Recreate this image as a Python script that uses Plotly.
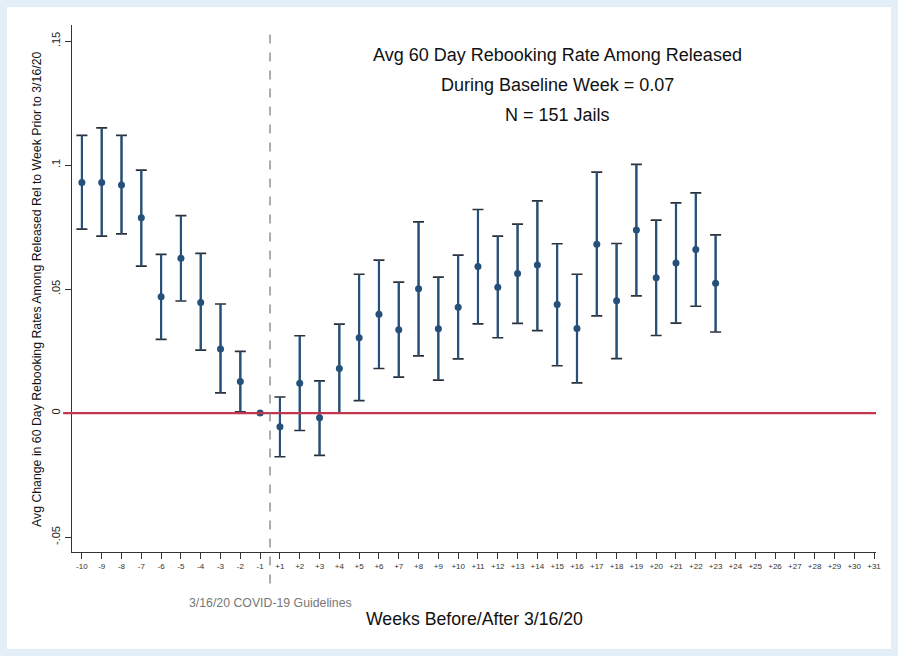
import plotly.graph_objects as go

# ---- data ----
tick_labels = [str(w) for w in range(-10, 0)] + ["+" + str(w) for w in range(1, 32)]
week_labels = [str(w) for w in range(-10, 0)] + ["+" + str(w) for w in range(1, 24)]
estimate = [0.093, 0.093, 0.092, 0.0788, 0.0469, 0.0624, 0.0446, 0.0259, 0.0128, 0.0,
            -0.0055, 0.012, -0.0019, 0.018, 0.0304, 0.0399, 0.0336, 0.0501, 0.034, 0.0427,
            0.0591, 0.0508, 0.0563, 0.0597, 0.0438, 0.0341, 0.0681, 0.0453, 0.0738, 0.0546,
            0.0605, 0.066, 0.0524]
ci_upper = [0.112, 0.115, 0.112, 0.098, 0.064, 0.0796, 0.0644, 0.044, 0.0249, None,
            0.0065, 0.0312, 0.013, 0.0359, 0.056, 0.0617, 0.0528, 0.0771, 0.0548, 0.0637,
            0.0821, 0.0714, 0.0762, 0.0856, 0.0683, 0.056, 0.0972, 0.0684, 0.1003, 0.0778,
            0.0848, 0.0888, 0.0719]
ci_lower = [0.0742, 0.0714, 0.0723, 0.0593, 0.0297, 0.0452, 0.0254, 0.0082, 0.0005, None,
            -0.0176, -0.007, -0.017, 0.0, 0.005, 0.018, 0.0145, 0.0231, 0.0133, 0.0219,
            0.036, 0.0304, 0.0362, 0.0333, 0.0191, 0.0122, 0.0392, 0.022, 0.0473, 0.0313,
            0.0363, 0.0431, 0.0327]
y_tickvals = [-0.05, 0, 0.05, 0.1, 0.15]
y_ticktext = ["-.05", "0", ".05", ".1", ".15"]
note_lines = ["Avg 60 Day Rebooking Rate Among Released",
              "During Baseline Week = 0.07",
              "N = 151 Jails"]

err_plus = [None if u is None else u - e for u, e in zip(ci_upper, estimate)]
err_minus = [None if l is None else e - l for l, e in zip(ci_lower, estimate)]

NAVY = "#24507a"
CAP = "#2b3038"
FONT = "Liberation Sans, Arial, sans-serif"
FRAME = "#e3eef6"

fig = go.Figure()
# caps (dark)
fig.add_trace(go.Scatter(
    x=week_labels, y=estimate, mode="markers",
    marker=dict(size=1, color="rgba(0,0,0,0)"),
    error_y=dict(type="data", symmetric=False, array=err_plus, arrayminus=err_minus,
                 color=CAP, thickness=1.7, width=5.5),
    hoverinfo="skip", showlegend=False))
# vertical spikes (blue) + markers
fig.add_trace(go.Scatter(
    x=week_labels, y=estimate, mode="markers",
    marker=dict(size=7, color=NAVY, symbol="circle"),
    error_y=dict(type="data", symmetric=False, array=err_plus, arrayminus=err_minus,
                 color=NAVY, thickness=2.2, width=0),
    showlegend=False))

shapes = [
    # white page inside light frame
    dict(type="rect", xref="paper", yref="paper", x0=-0.0808, x1=1.0187, y0=-0.184, y1=1.0342,
         fillcolor="white", line=dict(width=0), layer="below"),
    # zero reference line
    dict(type="line", xref="paper", yref="y", x0=-0.011, x1=1.0, y0=0, y1=0,
         line=dict(color="#c3364f", width=2.2)),
    # dashed vertical line at policy date
    dict(type="line", xref="x", yref="paper", x0=9.5, x1=9.5, y0=-0.06, y1=0.994,
         line=dict(color="#777777", width=1.2, dash="dash")),
]

annotations = [
    dict(text=note_lines[i], xref="paper", yref="paper", x=(557 - 72) / 804,
         y=(552 - (55 + 30 * i)) / 527, showarrow=False, xanchor="center", yanchor="middle",
         font=dict(family=FONT, size=18, color="#111111"))
    for i in range(3)
]
annotations.append(dict(text="3/16/20 COVID-19 Guidelines", xref="x", yref="paper", x=9.5,
                        y=(552 - 603) / 527, showarrow=False, xanchor="center", yanchor="middle",
                        font=dict(family=FONT, size=12.3, color="#777777")))
annotations.append(dict(text="Weeks Before/After 3/16/20", xref="paper", yref="paper",
                        x=(474 - 72) / 804, y=(552 - 619) / 527, showarrow=False,
                        xanchor="center", yanchor="middle",
                        font=dict(family=FONT, size=17.7, color="#111111")))
annotations.append(dict(text="Avg Change in 60 Day Rebooking Rates Among Released Rel to Week Prior to 3/16/20",
                        xref="paper", yref="paper", x=(37 - 72) / 804, y=(552 - 290) / 527,
                        showarrow=False, textangle=-90, xanchor="center", yanchor="middle",
                        font=dict(family=FONT, size=12.3, color="#111111")))

fig.update_layout(
    width=898, height=656,
    margin=dict(l=72, r=22, t=25, b=104),
    paper_bgcolor=FRAME, plot_bgcolor="white",
    font=dict(family=FONT, color="#222222"),
    xaxis=dict(type="category", categoryorder="array", categoryarray=tick_labels,
               tickmode="array", tickvals=tick_labels, ticktext=tick_labels,
               range=[-0.5, 40.1], showgrid=False, zeroline=False,
               showline=True, linecolor="#333333", linewidth=1.3,
               ticks="outside", ticklen=6, tickwidth=1.2, tickcolor="#333333",
               tickfont=dict(size=8, color="#333333", family=FONT), tickangle=0),
    yaxis=dict(range=[-0.056, 0.1565], tickvals=y_tickvals, ticktext=y_ticktext,
               showgrid=False, zeroline=False, showline=True, linecolor="#333333",
               linewidth=1.3, ticks="outside", ticklen=6, tickwidth=1.2, tickcolor="#333333",
               tickangle=-90, tickfont=dict(size=11, color="#222222", family=FONT)),
    shapes=shapes, annotations=annotations,
)

fig.write_html("out.html", config={"displayModeBar": False},
               post_script="document.body.style.margin='0px';"
                           "document.body.style.background='%s';" % FRAME)
